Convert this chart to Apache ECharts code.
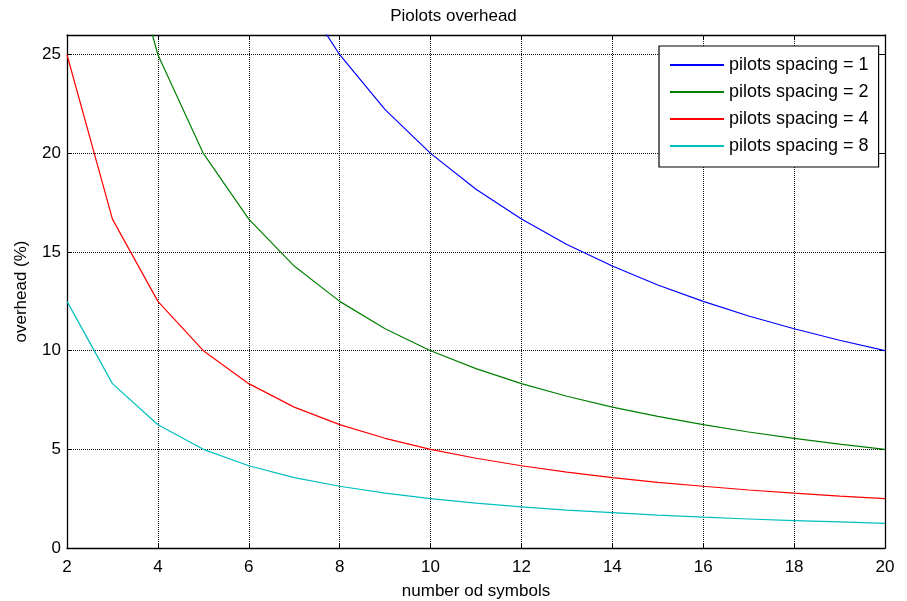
<!DOCTYPE html>
<html>
<head>
<meta charset="utf-8">
<script src="https://cdn.jsdelivr.net/npm/echarts@6/dist/echarts.min.js"></script>
<style>html,body{margin:0;padding:0;background:#fff}#c{width:907px;height:601px}</style>
</head>
<body>
<div id="c"></div>
<script>
const symbols = [2,3,4,5,6,7,8,9,10,11,12,13,14,15,16,17,18,19,20];
const spacing1 = [100,66.67,50,40,33.33,28.57,25,22.22,20,18.18,16.67,15.38,14.29,13.33,12.5,11.76,11.11,10.53,10];
const spacing2 = [50,33.33,25,20,16.67,14.29,12.5,11.11,10,9.09,8.33,7.69,7.14,6.67,6.25,5.88,5.56,5.26,5];
const spacing4 = [25,16.67,12.5,10,8.33,7.14,6.25,5.56,5,4.55,4.17,3.85,3.57,3.33,3.13,2.94,2.78,2.63,2.5];
const spacing8 = [12.5,8.33,6.25,5,4.17,3.57,3.13,2.78,2.5,2.27,2.08,1.92,1.79,1.67,1.56,1.47,1.39,1.32,1.25];
const seriesNames = ['pilots spacing = 1','pilots spacing = 2','pilots spacing = 4','pilots spacing = 8'];
const colors = ['#0000ff','#008000','#ff0000','#00bfbf'];
const titleText = 'Piolots overhead';
const xName = 'number od symbols';
const yName = 'overhead (%)';

const FONT = "'Liberation Sans',Arial,sans-serif";
const chart = echarts.init(document.getElementById('c'));
const allSeries = [spacing1, spacing2, spacing4, spacing8];
const dotted = {color:'#111', width:1, type:[1,1]};
const axLine = {show:true, onZero:false, lineStyle:{color:'#000', width:1.3}};
const tick = {show:true, inside:true, length:5, lineStyle:{color:'#000', width:1}};
chart.setOption({
  animation:false,
  backgroundColor:'#fff',
  color: colors,
  title:{text:titleText, left:'center', top:3, textStyle:{fontFamily:FONT, fontSize:17, fontWeight:'normal', color:'#000'}},
  grid:{left:67, right:22, top:35, bottom:53, containLabel:false, outerBoundsMode:'none'},
  legend:{
    orient:'vertical', left:659, top:46, icon:'rect',
    backgroundColor:'#fff', borderColor:'#000', borderWidth:1.2, borderRadius:0,
    padding:[10,10,12,11], itemWidth:54, itemHeight:2, itemGap:9,
    textStyle:{fontFamily:FONT, fontSize:18, color:'#000', lineHeight:18},
    data: seriesNames
  },
  xAxis:[{
    type:'value', min:2, max:20, interval:2,
    name:xName, nameLocation:'middle', nameGap:35,
    nameTextStyle:{fontFamily:FONT, fontSize:17, color:'#000'},
    axisLine:axLine, axisTick:tick,
    axisLabel:{fontFamily:FONT, fontSize:17, color:'#000', margin:11},
    splitLine:{show:true, lineStyle:dotted}
  },{
    type:'value', min:2, max:20, interval:2, position:'top',
    axisLine:axLine, axisTick:tick, axisLabel:{show:false}, splitLine:{show:false}
  }],
  yAxis:[{
    type:'value', min:0, max:26, interval:5,
    name:yName, nameLocation:'middle', nameGap:37, nameRotate:90,
    nameTextStyle:{fontFamily:FONT, fontSize:17, color:'#000'},
    axisLine:axLine, axisTick:tick,
    axisLabel:{fontFamily:FONT, fontSize:17, color:'#000', margin:6, showMaxLabel:false},
    splitLine:{show:true, lineStyle:dotted}
  },{
    type:'value', min:0, max:26, interval:5, position:'right',
    axisLine:axLine, axisTick:tick, axisLabel:{show:false}, splitLine:{show:false}
  }],
  series: allSeries.map((d,i)=>({
    name:seriesNames[i], type:'line', symbol:'none', clip:true,
    lineStyle:{width:1.2, color:colors[i]},
    data: symbols.map((x,j)=>[x,d[j]])
  }))
});
</script>
</body>
</html>
